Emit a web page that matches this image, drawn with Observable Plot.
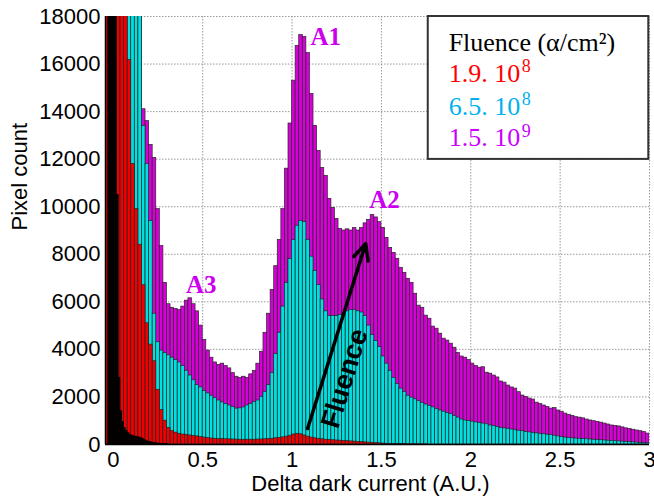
<!DOCTYPE html>
<html><head><meta charset="utf-8">
<script src="https://cdn.jsdelivr.net/npm/d3@7"></script>
<script src="https://cdn.jsdelivr.net/npm/@observablehq/plot@0.6"></script>
<style>body{margin:0;background:#fff;} #chart svg{display:block;}</style>
</head><body><div id="chart"></div>
<script>
// Histogram bins: left edge of first bin and bin width (A.U.)
const binStart = -0.04, binWidth = 0.02;
const refStart = -0.03, refWidth = 0.01;

// Fluence 1.5e9 (magenta), bins from -0.04 step 0.02
const counts15e9 = [
  40000,40000,40000,40000,40000,40000,40000,40000,40000,40000,
  14100,13600,12600,12050,9900,8350,6800,5900,5750,5700,
  5650,5800,6050,6150,5900,5600,5000,4400,3950,3650,
  3450,3350,3400,3300,3200,3000,2850,2800,2850,2800,
  2950,3100,3400,3900,4700,5500,6500,7500,8600,9900,
  11600,13500,15300,16760,17220,17140,16460,14740,13400,12350,
  11630,11300,10330,9950,9490,9070,9000,9050,9000,9100,
  9000,9100,9300,9450,9650,9550,9350,9110,8690,8270,
  8060,7810,7430,7220,6970,6800,6340,5840,5750,5420,
  5290,4960,4870,4660,4450,4370,4240,4070,3850,3700,
  3650,3550,3400,3300,3230,3250,3020,2980,2900,2820,
  2650,2600,2480,2400,2350,2200,2060,2000,1930,1890,
  1760,1700,1640,1580,1510,1530,1430,1380,1300,1250,
  1200,1150,1130,1100,1050,1010,980,950,920,880,
  840,800,780,760,720,680,650,620,590,560,
  520,460
];
// Fluence 6.5e8 (cyan)
const counts65e8 = [
  40000,40000,40000,40000,40000,40000,40000,40000,40000,40000,
  13400,11800,9400,5500,4300,3950,3850,3750,3650,3550,
  3450,3300,3100,2900,2700,2500,2400,2250,2150,2050,
  1950,1850,1770,1700,1640,1580,1510,1520,1560,1640,
  1700,1780,1850,2000,2200,2500,3000,3800,4700,5800,
  6800,7800,8600,9200,9400,9350,8600,7900,7300,6700,
  6100,5600,5400,5400,5400,5450,5500,5600,5650,5650,
  5600,5550,5400,5000,4600,4350,4100,3700,3400,3100,
  2800,2550,2350,2200,2050,1970,1900,1820,1750,1680,
  1620,1560,1500,1430,1380,1330,1280,1200,1130,1050,
  1010,990,960,930,900,880,850,800,770,740,
  700,680,660,630,600,580,560,530,510,490,
  470,450,430,410,400,370,340,310,290,270,
  260,250,240,230,220,210,200,190,180,170,
  160,150,140,130,120,110,100,90,80,70,
  60,50
];
// Fluence 1.9e8 (red)
const counts19e8 = [
  40000,40000,40000,40000,40000,40000,16170,11800,9900,8400,
  6700,5100,4200,3500,2300,1450,1000,700,560,500,
  450,420,400,380,360,340,310,290,270,250,
  240,230,225,220,215,210,205,200,200,200,
  200,200,210,210,220,230,240,260,280,300,
  330,370,420,450,430,380,330,290,260,240,
  220,200,190,180,170,160,150,140,130,120,
  110,100,90,80,70,60,50,40,30,25,
  20,20,15,15,10,10,10,5,5,5
];
// Reference (black), bins from -0.03 step 0.01
const countsRef = [
  40000,40000,40000,40000,40000,10500,2800,1400,950,700,
  580,480,420,380,350,330,310,300,280,250,
  200,160,130,110,90,70,60,50,40,30,
  25,20,15,10
];

const xTicks = [0, 0.5, 1, 1.5, 2, 2.5, 3];
const yTicks = [0, 2000, 4000, 6000, 8000, 10000, 12000, 14000, 16000, 18000];
const xLabel = "Delta dark current (A.U.)";
const yLabel = "Pixel count";
const legendTitle = "Fluence (α/cm²)";
const legendBase = ["1.9. 10", "6.5. 10", "1.5. 10"];
const legendExp = ["8", "8", "9"];
const legendColors = ["#ff0000", "#00b0f0", "#cc00ff"];
const legendRowY = [15600, 14213, 12890];
const peakNames = ["A1", "A2", "A3"];
const peakX = [1.188, 1.517, 0.492];
const peakY = [17135, 10300, 6707];
const arrowData = [{x1: 1.087, y1: 673, x2: 1.412, y2: 8450}];

function toBins(counts, start, w) {
  return counts.map((c, i) => ({x1: start + i * w, x2: start + (i + 1) * w, y: c}));
}
const barOpts = (fill) => ({x1: "x1", x2: "x2", y: "y", fill, stroke: "#262626", strokeWidth: 0.7, clip: true});

const legendRows = legendBase.map((b, i) => ({base: b, exp: legendExp[i], color: legendColors[i], y: legendRowY[i]}));
const peaks = peakNames.map((n, i) => ({name: n, x: peakX[i], y: peakY[i]}));
const serif = "'Liberation Serif', 'Times New Roman', serif";

const plot = Plot.plot({
  width: 654, height: 497,
  marginLeft: 105, marginRight: 5, marginTop: 16, marginBottom: 53,
  x: {domain: [-0.044, 3]},
  y: {domain: [0, 18000]},
  style: {fontFamily: "'Liberation Sans', Arial, sans-serif", fontSize: "22px", color: "#000", background: "#fff", overflow: "visible"},
  marks: [
    Plot.gridX(xTicks, {stroke: "#9a9a9a", strokeOpacity: 1, strokeDasharray: "1.5,1.5", strokeWidth: 1}),
    Plot.gridY(yTicks, {stroke: "#9a9a9a", strokeOpacity: 1, strokeDasharray: "1.5,1.5", strokeWidth: 1}),
    Plot.rectY(toBins(counts15e9, binStart, binWidth), barOpts("#d800d8")),
    Plot.rectY(toBins(counts65e8, binStart, binWidth), barOpts("#00e0e0")),
    Plot.rectY(toBins(counts19e8, binStart, binWidth), barOpts("#f00000")),
    Plot.rectY(toBins(countsRef, refStart, refWidth), {x1: "x1", x2: "x2", y: "y", fill: "#000", stroke: "#000", strokeWidth: 0.5, clip: true}),
    Plot.ruleY([0], {stroke: "#000", strokeWidth: 1.5}),
    Plot.ruleX([-0.044], {stroke: "#000", strokeWidth: 1.5}),
    Plot.axisX(xTicks, {tickSize: 0, tickPadding: 7, label: null, fontSize: 22, tickFormat: d => String(d), textAnchor: "middle"}),
    Plot.axisY(yTicks, {tickSize: 0, tickPadding: 5, label: null, fontSize: 22, tickFormat: d => String(d)}),
    Plot.text([xLabel], {frameAnchor: "bottom", dy: 46, dx: -7, fontSize: 22}),
    Plot.text([yLabel], {frameAnchor: "left", dx: -86, rotate: -90, fontSize: 22}),
    // Peak labels
    Plot.text(peaks, {x: "x", y: "y", text: "name", fontFamily: serif, fontWeight: "bold", fontSize: 25, fill: "#cc00ee"}),
    // Fluence arrow
    Plot.arrow(arrowData, {x1: "x1", y1: "y1", x2: "x2", y2: "y2", stroke: "#000", strokeWidth: 3.5, headLength: 7.5, headAngle: 50}),
    Plot.text(["Fluence"], {x: 1.294, y: 2775, rotate: -73, fontWeight: "bold", fontSize: 27, fill: "#000"}),
    // Legend box
    Plot.rect([{x1: 1.762, x2: 2.996, y1: 11990, y2: 18000}], {x1: "x1", x2: "x2", y1: "y1", y2: "y2", fill: "#fff", stroke: "#333", strokeWidth: 2}),
    Plot.text([legendTitle], {x: 1.876, y: 16905, textAnchor: "start", fontFamily: serif, fontSize: 26, fill: "#000"}),
    Plot.text(legendRows, {x: 1.876, y: "y", text: "base", textAnchor: "start", fontFamily: serif, fontSize: 26, fill: "color"}),
    Plot.text(legendRows, {x: 2.285, y: "y", text: "exp", dy: -7, textAnchor: "start", fontFamily: serif, fontSize: 18, fill: "color"})
  ]
});
document.getElementById("chart").appendChild(plot);
</script>
</body></html>
